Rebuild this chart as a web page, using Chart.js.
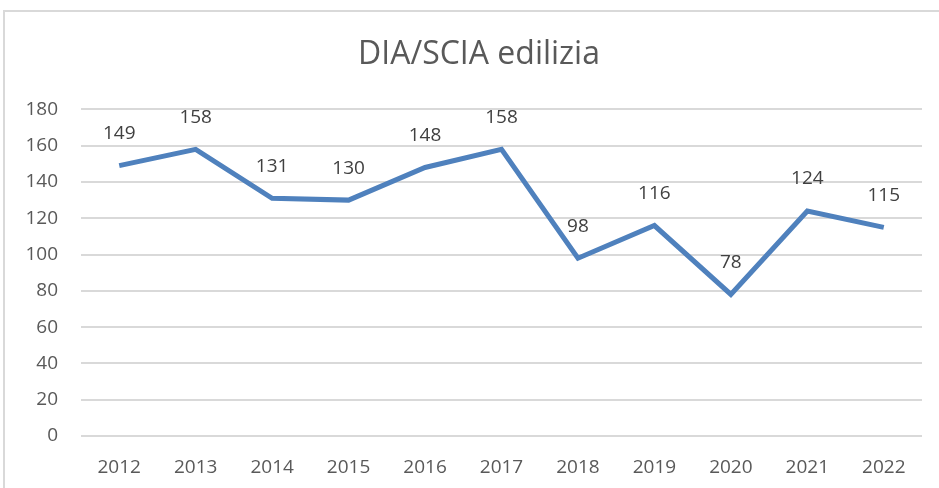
<!DOCTYPE html>
<html>
<head>
<meta charset="utf-8">
<script src="https://cdn.jsdelivr.net/npm/chart.js@4"></script>
<style>
  html, body { margin: 0; padding: 0; background: #fff; }
  #wrap { position: relative; width: 939px; height: 488px; overflow: hidden; }
  #box { position: absolute; left: 3px; top: 10px; width: 950px; height: 500px; border: 2px solid #d9d9d9; box-sizing: border-box; }
  canvas { position: absolute; left: 0; top: 0; }
</style>
</head>
<body>
<div id="wrap">
  <div id="box"></div>
  <canvas id="chart" width="939" height="488"></canvas>
</div>
<script>
const years = ["2012", "2013", "2014", "2015", "2016", "2017", "2018", "2019", "2020", "2021", "2022"];
const pratiche = [149, 158, 131, 130, 148, 158, 98, 116, 78, 124, 115];
const yTicks = [0, 20, 40, 60, 80, 100, 120, 140, 160, 180];

const FONT = "'Open Sans', sans-serif";

// etichette sopra i punti
const valueLabels = {
  id: "valueLabels",
  afterDatasetsDraw(chart) {
    const ctx = chart.ctx;
    const meta = chart.getDatasetMeta(0);
    ctx.save();
    ctx.font = "19px " + FONT;
    ctx.fillStyle = "#404040";
    ctx.textAlign = "center";
    ctx.textBaseline = "middle";
    meta.data.forEach((pt, i) => {
      ctx.fillText(String(pratiche[i]), pt.x, pt.y - 32);
    });
    ctx.restore();
  }
};

// il titolo è centrato sul riquadro, non sull'area del grafico
const titleShift = {
  id: "titleShift",
  afterLayout(chart) {
    if (chart.titleBlock) chart.titleBlock.left = 36;
  }
};

new Chart(document.getElementById("chart").getContext("2d"), {
  type: "line",
  data: {
    labels: years,
    datasets: [{
      label: "DIA/SCIA edilizia",
      data: pratiche,
      borderColor: "#4f81bd",
      borderWidth: 5,
      tension: 0,
      pointRadius: 0,
      fill: false
    }]
  },
  options: {
    responsive: false,
    animation: false,
    layout: { padding: { left: 0, right: 17, top: 0, bottom: 0 } },
    plugins: {
      legend: { display: false },
      tooltip: { enabled: false },
      title: {
        display: true,
        text: "DIA/SCIA edilizia",
        color: "#595959",
        font: { family: FONT, size: 32, weight: "normal" },
        padding: { top: 36, bottom: 35 }
      }
    },
    scales: {
      x: {
        offset: true,
        grid: { display: false, drawTicks: false },
        border: { display: false },
        ticks: { color: "#595959", font: { family: FONT, size: 19 }, padding: 20, maxRotation: 0 },
        afterFit: s => { s.height = 52; }
      },
      y: {
        min: 0,
        max: 180,
        afterBuildTicks: s => { s.ticks = yTicks.map(v => ({ value: v })); },
        grid: { color: "#d9d9d9", lineWidth: 2, drawTicks: false },
        border: { display: false },
        ticks: { color: "#595959", font: { family: FONT, size: 19 }, padding: 23 },
        afterFit: s => { s.width = 81; }
      }
    }
  },
  plugins: [valueLabels, titleShift]
});
</script>
</body>
</html>
